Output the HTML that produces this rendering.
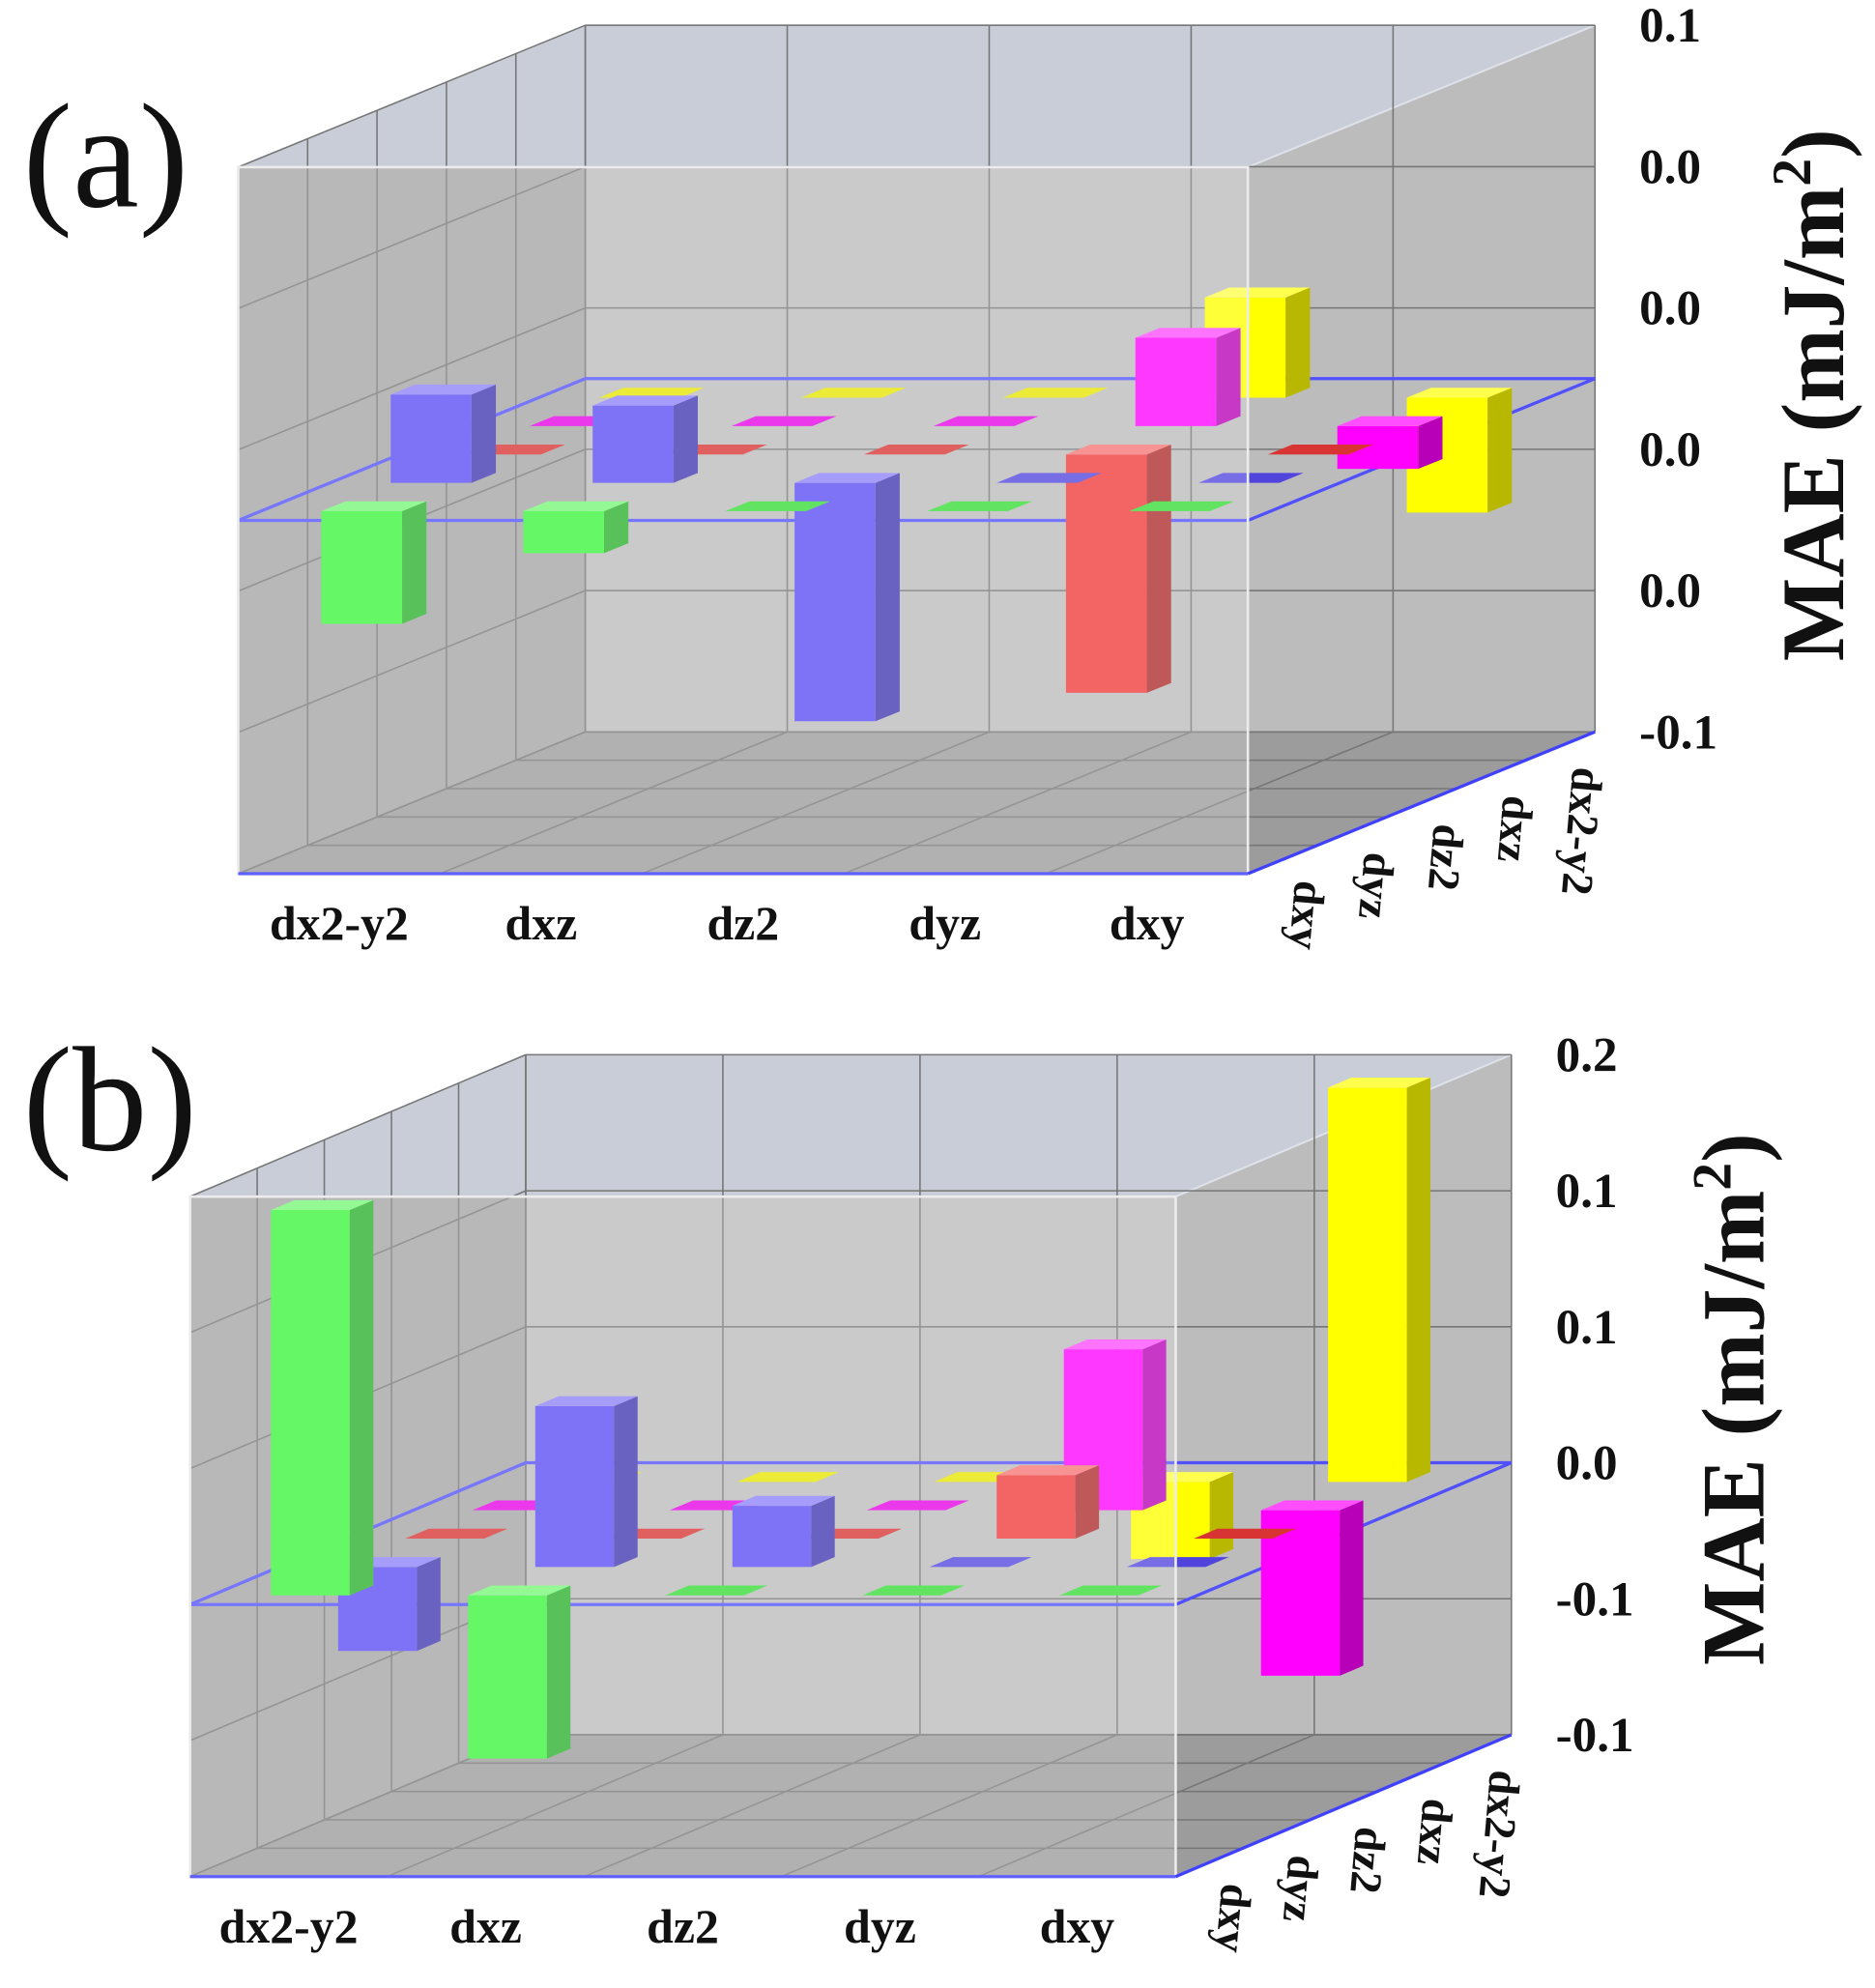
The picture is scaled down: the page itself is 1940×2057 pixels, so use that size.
<!DOCTYPE html>
<html><head><meta charset="utf-8"><style>
html,body{margin:0;padding:0;background:#fff;}
svg{display:block;}
text{font-family:"Liberation Serif",serif;}
</style></head><body>
<svg id="chart" width="1940" height="2057" viewBox="0 0 1480 1570" preserveAspectRatio="none" xmlns="http://www.w3.org/2000/svg"></svg>
<script>
const categories = ['dx2-y2','dxz','dz2','dyz','dxy'];
const depthCategories = ['dxy','dyz','dz2','dxz','dx2-y2'];
const rowColors = ['#3cf53c','#5a4cf5','#f03a3a','#ff00ff','#ffff00'];

// Panel (a) values per depth row (dxy, dyz, dz2, dxz, dx2-y2), across categories
const valuesA_dxy   = [-0.0255, -0.0095, 0, 0, 0];
const valuesA_dyz   = [0.020, 0.0175, -0.054, 0, 0];
const valuesA_dz2   = [0, 0, 0, -0.054, 0];
const valuesA_dxz   = [0, 0, 0, 0.020, -0.0097];
const valuesA_dx2y2 = [0, 0, 0, 0.0227, -0.026];
const tickValuesA = [0.08, 0.048, 0.016, -0.016, -0.048, -0.08];
const tickLabelsA = ['0.1','0.0','0.0','0.0','0.0','-0.1'];

// Panel (b)
const valuesB_dxy   = [0.17, -0.072, 0, 0, 0];
const valuesB_dyz   = [-0.037, 0.071, 0.027, 0, 0];
const valuesB_dz2   = [0, 0, 0, 0.028, 0];
const valuesB_dxz   = [0, 0, 0, 0.071, -0.073];
const valuesB_dx2y2 = [0, 0, 0, -0.034, 0.174];
const tickValuesB = [0.18, 0.12, 0.06, 0, -0.06, -0.12];
const tickLabelsB = ['0.2','0.1','0.1','0.0','-0.1','-0.1'];

const NS = 'http://www.w3.org/2000/svg';
const svg = document.getElementById('chart');

function mk(tag, attrs, parent){
  const e = document.createElementNS(NS, tag);
  for (const k in attrs) e.setAttribute(k, attrs[k]);
  parent.appendChild(e);
  return e;
}
function shade(hex, f){
  const n = parseInt(hex.slice(1),16);
  let r=(n>>16)&255,g=(n>>8)&255,b=n&255;
  if (f<1){ r=Math.round(r*f); g=Math.round(g*f); b=Math.round(b*f); }
  else { const t=f-1; r=Math.round(r+(255-r)*t); g=Math.round(g+(255-g)*t); b=Math.round(b+(255-b)*t); }
  return 'rgb('+r+','+g+','+b+')';
}
function pts(a){ return a.map(p=>p[0].toFixed(1)+','+p[1].toFixed(1)).join(' '); }

function drawPanel(cfg, rows, tickValues, tickLabels){
  const g = mk('g', {}, svg);
  
  
  const cw = cfg.W/5;
  const P = (cx, d, v) => [cfg.L + cx*cw + d*cfg.dx, cfg.T + (cfg.ymax - v)/(cfg.ymax - cfg.ymin)*cfg.H + d*cfg.dy];
  const ymax=cfg.ymax, ymin=cfg.ymin;

  const back = mk('polygon', {points: pts([P(0,5,ymax),P(5,5,ymax),P(5,5,ymin),P(0,5,ymin)]), fill:'#bcbcbc'}, g);
  
  
  const left = mk('polygon', {points: pts([P(0,0,ymax),P(0,5,ymax),P(0,5,ymin),P(0,0,ymin)]), fill:'#a4a4a4'}, g);
  
  
  const floor = mk('polygon', {points: pts([P(0,0,ymin),P(5,0,ymin),P(5,5,ymin),P(0,5,ymin)]), fill:'#9c9c9c'}, g);
  
  
  const top = mk('polygon', {points: pts([P(0,0,ymax),P(5,0,ymax),P(5,5,ymax),P(0,5,ymax)]), fill:'#c9cdd8', stroke:'#dfe2ea','stroke-width':1.5}, g);
  
  

  const gl = mk('g', {stroke:'#767676','stroke-width':1.2}, g);
  
  
  const line=(a,b)=>mk('line',{x1:a[0],y1:a[1],x2:b[0],y2:b[1]},gl);
  tickValues.forEach(v=>{ line(P(0,5,v),P(5,5,v)); line(P(0,0,v),P(0,5,v)); });
  for(let k=0;k<=5;k++){ line(P(k,5,ymax),P(k,5,ymin)); line(P(k,0,ymin),P(k,5,ymin)); }
  for(let d=0;d<=5;d++){ line(P(0,d,ymax),P(0,d,ymin)); line(P(0,d,ymin),P(5,d,ymin)); }

  const zp = mk('polygon', {points: pts([P(0,0,0),P(5,0,0),P(5,5,0),P(0,5,0)]), fill:'none', stroke:'#5050ff','stroke-width':2.5}, g);
  
  

  for (let j=4;j>=0;j--){
    for (let i=0;i<5;i++){
      const v = rows[j][i];
      const col = rowColors[j];
      const cx0=i+0.3, cx1=i+0.7, d0=j+0.5-0.175, d1=j+0.5+0.175;
      const vt=Math.max(v,0), vb=Math.min(v,0);
      const bg = mk('g', {}, g);
      
      
      if (v !== 0){
        mk('polygon',{points:pts([P(cx0,d0,vt),P(cx1,d0,vt),P(cx1,d0,vb),P(cx0,d0,vb)]),fill:col},bg);
        mk('polygon',{points:pts([P(cx1,d0,vt),P(cx1,d1,vt),P(cx1,d1,vb),P(cx1,d0,vb)]),fill:shade(col,0.72)},bg);
      }
      mk('polygon',{points:pts([P(cx0,d0,vt),P(cx1,d0,vt),P(cx1,d1,vt),P(cx0,d1,vt)]),fill:v!==0?shade(col,1.3):shade(col,0.9)},bg);
    }
  }

  const glass = mk('polygon', {points: pts([P(0,0,ymax),P(5,0,ymax),P(5,0,ymin),P(0,0,ymin)]), fill:'#ffffff','fill-opacity':0.22, stroke:'#ececec','stroke-width':2}, g);
  
  
  const e1 = mk('line',{x1:P(0,0,ymin)[0],y1:P(0,0,ymin)[1],x2:P(5,0,ymin)[0],y2:P(5,0,ymin)[1],stroke:'#6060ff','stroke-width':2.5},g);
  
  
  const e2 = mk('line',{x1:P(5,0,ymin)[0],y1:P(5,0,ymin)[1],x2:P(5,5,ymin)[0],y2:P(5,5,ymin)[1],stroke:'#4040ff','stroke-width':2.5},g);
  
  

  tickValues.forEach((v,k)=>{
    const p=P(5,5,v);
    const t=mk('text',{x:p[0]+35,y:p[1]+13,'font-size':39,'font-weight':'bold',fill:'#111'},g);
    t.textContent=tickLabels[k];
    
    
  });
  categories.forEach((c,i)=>{
    const p=P(i+0.5,0,ymin);
    const t=mk('text',{x:p[0],y:p[1]+52,'font-size':38,'font-weight':'bold','text-anchor':'middle',fill:'#111'},g);
    t.textContent=c;
    
    
  });
  depthCategories.forEach((c,j)=>{
    const p=P(5,j+0.5,ymin);
    const x=p[0]+10, y=p[1]+16;
    const t=mk('text',{x:x,y:y,'font-size':35,'font-weight':'bold',transform:'rotate(95 '+x+' '+y+')',fill:'#111'},g);
    t.textContent=c;
    
    
  });
  const yt=mk('text',{x:0,y:0,'font-size':70,'font-weight':'bold','text-anchor':'middle',transform:'translate('+cfg.yx+' '+cfg.yy+') rotate(-90)',fill:'#111'},g);
  
  
  yt.appendChild(document.createTextNode('MAE (mJ/m'));
  const sup=mk('tspan',{'font-size':44,dy:-26},yt); sup.textContent='2';
  const cl=mk('tspan',{dy:26},yt); cl.textContent=')';
  const pl=mk('text',{x:18,y:cfg.letterY,'font-size':118,fill:'#111'},g);
  pl.textContent=cfg.letter;
  
  
}

drawPanel({name:'panel-a',L:188,T:132,W:797,H:558,dx:54.8,dy:-22.4,ymin:-0.08,ymax:0.08,yx:1455,yy:312,letter:'(a)',letterY:163},
  [valuesA_dxy,valuesA_dyz,valuesA_dz2,valuesA_dxz,valuesA_dx2y2], tickValuesA, tickLabelsA);
drawPanel({name:'panel-b',L:150,T:945,W:778,H:537,dx:53,dy:-22.4,ymin:-0.12,ymax:0.18,yx:1392,yy:1105,letter:'(b)',letterY:908},
  [valuesB_dxy,valuesB_dyz,valuesB_dz2,valuesB_dxz,valuesB_dx2y2], tickValuesB, tickLabelsB);
</script>
</body></html>
